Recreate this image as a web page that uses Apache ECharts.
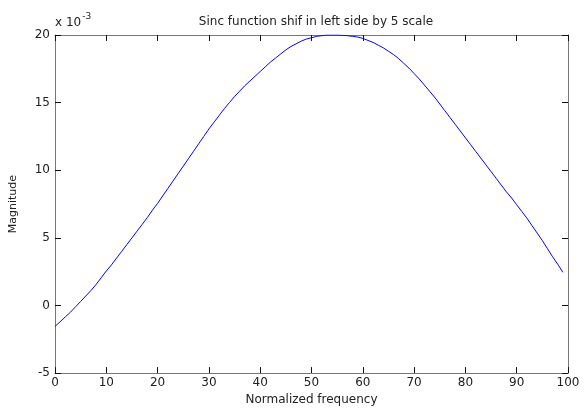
<!DOCTYPE html>
<html><head><meta charset="utf-8">
<script src="https://cdn.jsdelivr.net/npm/echarts@6/dist/echarts.min.js"></script>
<style>html,body{margin:0;padding:0;background:#fff}#c{width:585px;height:411px}</style>
</head><body><div id="c"></div>
<script>
// x = normalized frequency index, y = magnitude in units of 1e-3
var xValues = [];
for (var i = 0; i < 100; i++) xValues.push(i);
var magnitude = [
 -1.55,-1.2,-0.85,-0.5,-0.1,0.3,0.7,1.1,1.55,2.05,
 2.55,3.0,3.5,4.0,4.5,5.0,5.5,6.0,6.5,7.05,
 7.55,8.1,8.65,9.2,9.75,10.3,10.85,11.4,11.95,12.5,
 13.05,13.55,14.05,14.55,15.0,15.45,15.85,16.25,16.6,16.95,
 17.3,17.65,18.0,18.3,18.6,18.9,19.15,19.35,19.55,19.7,
 19.8,19.9,19.95,20.0,20.0,20.0,19.98,19.95,19.9,19.85,
 19.75,19.6,19.45,19.25,19.05,18.8,18.55,18.25,17.9,17.55,
 17.15,16.75,16.3,15.85,15.4,14.9,14.4,13.9,13.4,12.9,
 12.4,11.9,11.4,10.9,10.4,9.9,9.4,8.9,8.4,7.95,
 7.45,6.95,6.45,5.9,5.35,4.8,4.2,3.6,3.05,2.45
];
var xTicks = [0,10,20,30,40,50,60,70,80,90,100];
var yTicks = [-5,0,5,10,15,20];
var titleText = 'Sinc function shif in left side by 5 scale';
var xLabel = 'Normalized frequency';
var yLabel = 'Magnitude';

var font = 'DejaVu Sans, sans-serif';
var xMin = xTicks[0], xMax = xTicks[xTicks.length-1];
var yMin = yTicks[0], yMax = yTicks[yTicks.length-1];

var chart = echarts.init(document.getElementById('c'));
function axLine(){ return {show:true, onZero:false, lineStyle:{color:'#777', width:1}}; }
function tick(){ return {show:true, inside:true, length:6, lineStyle:{color:'#111', width:1}}; }
chart.setOption({
  animation:false,
  backgroundColor:'#fff',
  title:{text:titleText, left:311, top:11, textAlign:'center',
    textStyle:{fontFamily:font, fontSize:12, fontWeight:'normal', color:'#222'}},
  grid:{left:55, right:17, top:35, bottom:34},
  xAxis:[
    {type:'value', min:xMin, max:xMax, interval:10, position:'bottom',
     axisLine:axLine(), axisTick:tick(), splitLine:{show:false},
     axisLabel:{fontFamily:font, fontSize:12, color:'#222', margin:4},
     name:xLabel, nameLocation:'middle', nameGap:20,
     nameTextStyle:{fontFamily:font, fontSize:12, color:'#222'}},
    {type:'value', min:xMin, max:xMax, interval:10, position:'top',
     axisLine:axLine(), axisTick:tick(), splitLine:{show:false},
     axisLabel:{show:false}}
  ],
  yAxis:[
    {type:'value', min:yMin, max:yMax, interval:5, position:'left',
     axisLine:axLine(), axisTick:tick(), splitLine:{show:false},
     axisLabel:{fontFamily:font, fontSize:12, color:'#222', margin:5},
     name:yLabel, nameLocation:'middle', nameGap:36, nameRotate:90,
     nameTextStyle:{fontFamily:font, fontSize:11, color:'#222'}},
    {type:'value', min:yMin, max:yMax, interval:5, position:'right',
     axisLine:axLine(), axisTick:tick(), splitLine:{show:false},
     axisLabel:{show:false}}
  ],
  graphic:[{type:'text', left:55, top:12, style:{
    text:'{a|x 10}{b|-3}', rich:{
      a:{fontFamily:font, fontSize:12, fill:'#222', verticalAlign:'bottom'},
      b:{fontFamily:font, fontSize:9, fill:'#222', verticalAlign:'top', padding:[0,0,8,1]}
    }}}],
  series:[
    {type:'line', xAxisIndex:0, yAxisIndex:0, showSymbol:false, symbol:'none',
     data:xValues.map(function(x,i){return [x, magnitude[i]];}),
     lineStyle:{color:'#0000ff', width:1}}
  ]
});
</script></body></html>
